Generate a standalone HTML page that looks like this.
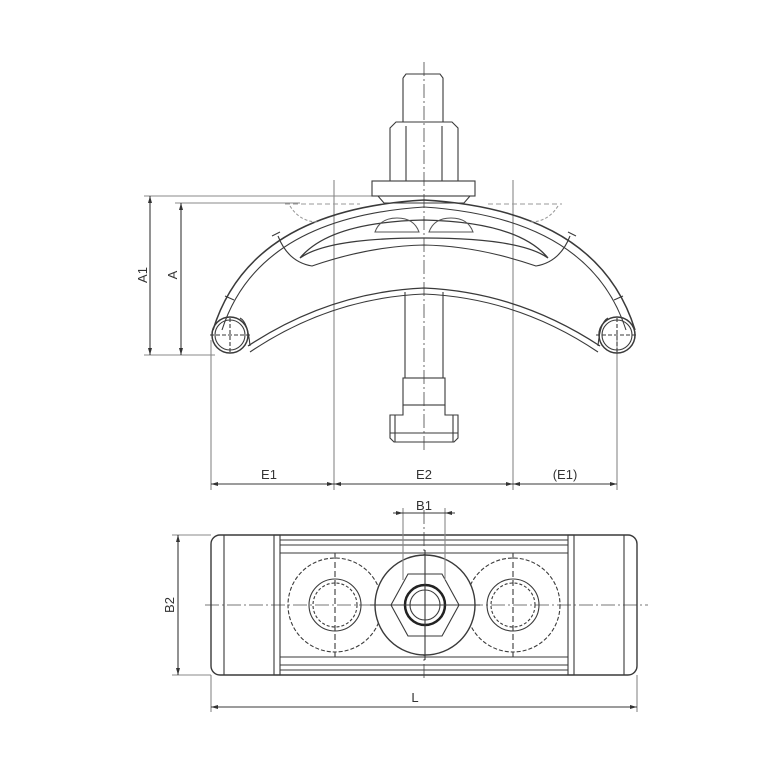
<!DOCTYPE html>
<html><head><meta charset="utf-8"><style>html,body{margin:0;padding:0;background:#fff}svg{display:block}</style></head>
<body>
<svg width="772" height="772" viewBox="0 0 772 772" xmlns="http://www.w3.org/2000/svg" font-family="Liberation Sans, sans-serif">
<g fill="none" stroke="#3a3a3a" stroke-width="1.1">
<line x1="424" y1="62" x2="424" y2="450" stroke-dasharray="14,3,2,3" stroke="#777"/>
<line x1="144" y1="196" x2="372" y2="196" stroke="#888"/>
<line x1="175" y1="203" x2="300" y2="203" stroke="#888"/>
<line x1="144" y1="355" x2="215" y2="355" stroke="#888"/>
<line x1="150" y1="196" x2="150" y2="355"/>
<line x1="181" y1="203" x2="181" y2="355"/>
<line x1="211" y1="340" x2="211" y2="490" stroke="#888"/>
<line x1="334" y1="180" x2="334" y2="490" stroke="#888"/>
<line x1="513" y1="180" x2="513" y2="490" stroke="#888"/>
<line x1="617" y1="340" x2="617" y2="490" stroke="#888"/>
<line x1="211" y1="484" x2="617" y2="484"/>
<path d="M403 78 L406 74 L440 74 L443 78 L443 122 M403 78 L403 122"/>
<path d="M390 128 L396 122 L452 122 L458 128 L458 181 L390 181 Z"/>
<line x1="406" y1="126" x2="406" y2="181"/><line x1="442" y1="126" x2="442" y2="181"/>
<rect x="372" y="181" width="103" height="15"/>
<path d="M378 196 L384 203 L464 203 L470 196"/>
<path d="M405 292 L405 378 M443 292 L443 378"/>
<rect x="403" y="378" width="42" height="27"/>
<path d="M403 405 L403 415 L390 415 L390 438 L394 442 L454 442 L458 438 L458 415 L445 415 L445 405"/>
<line x1="390" y1="433" x2="458" y2="433"/>
<line x1="395" y1="415" x2="395" y2="442"/><line x1="453" y1="415" x2="453" y2="442"/>
<path d="M213 330 Q250 210 424 200 Q598 210 635 330" stroke-width="1.5"/>
<path d="M222 330 Q258 218 424 207 Q590 218 626 330"/>
<path d="M272 236 L280 232 M568 232 L576 236 M225 296 L234 300 M614 300 L623 296"/>
<path d="M300 258 Q330 222 424 220 Q518 222 548 258 Q520 238 424 238 Q328 238 300 258 Z" stroke-width="1.3"/>
<path d="M278 236 Q288 262 312 266 Q370 246 424 245 Q478 246 536 266 Q560 262 570 236"/>
<path d="M248 346 Q330 292 424 288 Q518 292 600 346" stroke-width="1.3"/>
<path d="M250 352 Q330 298 424 294 Q518 298 598 352"/>
<path d="M240 318 Q248 322 250 346 M608 318 Q600 322 598 346"/>
<circle cx="230" cy="335" r="18" stroke-width="1.5"/><circle cx="230" cy="335" r="15"/>
<circle cx="617" cy="335" r="18" stroke-width="1.5"/><circle cx="617" cy="335" r="15"/>
<path d="M210 335 L252 335 M230 318 L230 352 M596 335 L638 335 M617 318 L617 352" stroke-dasharray="4,2"/>
<path d="M285 204 L360 204 M488 204 L562 204" stroke-dasharray="5,3" stroke="#999"/>
<path d="M290 206 Q300 222 318 222 M558 206 Q548 222 530 222" stroke-dasharray="3,2" stroke="#999"/>
<path d="M375 232 Q380 218 397 218 Q414 218 419 232 Z" stroke="#555"/>
<path d="M429 232 Q434 218 451 218 Q468 218 473 232 Z" stroke="#555"/>

<line x1="205" y1="605" x2="648" y2="605" stroke-dasharray="14,3,2,3" stroke="#777"/>
<line x1="424" y1="510" x2="424" y2="680" stroke-dasharray="14,3,2,3" stroke="#777"/>
<rect x="211" y="535" width="426" height="140" rx="9" stroke-width="1.4"/>
<line x1="224" y1="535" x2="224" y2="675"/><line x1="624" y1="535" x2="624" y2="675"/>
<rect x="274" y="535" width="6" height="140"/><rect x="568" y="535" width="6" height="140"/>
<line x1="280" y1="540" x2="568" y2="540"/><line x1="280" y1="545" x2="568" y2="545"/>
<line x1="280" y1="553" x2="568" y2="553"/><line x1="280" y1="657" x2="568" y2="657"/>
<line x1="280" y1="665" x2="568" y2="665"/><line x1="280" y1="670" x2="568" y2="670"/>
<circle cx="335" cy="605" r="47" stroke-dasharray="4,2"/>
<circle cx="335" cy="605" r="26"/><circle cx="335" cy="605" r="22" stroke-dasharray="3,2"/>
<circle cx="513" cy="605" r="47" stroke-dasharray="4,2"/>
<circle cx="513" cy="605" r="26"/><circle cx="513" cy="605" r="22" stroke-dasharray="3,2"/>
<line x1="335" y1="553" x2="335" y2="657" stroke-dasharray="6,3"/>
<line x1="513" y1="553" x2="513" y2="657" stroke-dasharray="6,3"/>
<circle cx="425" cy="605" r="50" fill="#fff" stroke-width="1.4"/>
<polygon points="391,605 408,574 442,574 459,605 442,636 408,636"/>
<circle cx="425" cy="605" r="20" stroke-width="2.5" stroke="#222"/>
<circle cx="425" cy="605" r="15"/>
<line x1="370" y1="605" x2="480" y2="605"/><line x1="425" y1="550" x2="425" y2="660"/>
<line x1="403" y1="508" x2="403" y2="580" stroke="#888"/><line x1="445" y1="508" x2="445" y2="580" stroke="#888"/>
<line x1="393" y1="513" x2="455" y2="513"/>
<line x1="172" y1="535" x2="211" y2="535" stroke="#888"/><line x1="172" y1="675" x2="211" y2="675" stroke="#888"/>
<line x1="178" y1="535" x2="178" y2="675"/>
<line x1="211" y1="675" x2="211" y2="712" stroke="#888"/><line x1="637" y1="675" x2="637" y2="712" stroke="#888"/>
<line x1="211" y1="707" x2="637" y2="707"/>
</g>
<g fill="#333">
<path d="M150 196 l-2 7 h4z M150 355 l-2 -7 h4z M181 203 l-2 7 h4z M181 355 l-2 -7 h4z"/>
<path d="M211 484 l7 -2 v4z M334 484 l-7 -2 v4z M334 484 l7 -2 v4z M513 484 l-7 -2 v4z M513 484 l7 -2 v4z M617 484 l-7 -2 v4z"/>
<path d="M178 535 l-2 7 h4z M178 675 l-2 -7 h4z M211 707 l7 -2 v4z M637 707 l-7 -2 v4z M403 513 l-7 -2 v4z M445 513 l7 -2 v4z"/>
</g>
<g fill="#333" font-size="13">
<text x="269" y="479" text-anchor="middle">E1</text>
<text x="424" y="479" text-anchor="middle">E2</text>
<text x="565" y="479" text-anchor="middle">(E1)</text>
<text x="424" y="510" text-anchor="middle">B1</text>
<text x="415" y="702" text-anchor="middle">L</text>
<text transform="translate(147,275) rotate(-90)" text-anchor="middle">A1</text>
<text transform="translate(177,275) rotate(-90)" text-anchor="middle">A</text>
<text transform="translate(174,605) rotate(-90)" text-anchor="middle">B2</text>
</g>
</svg>
</body></html>
